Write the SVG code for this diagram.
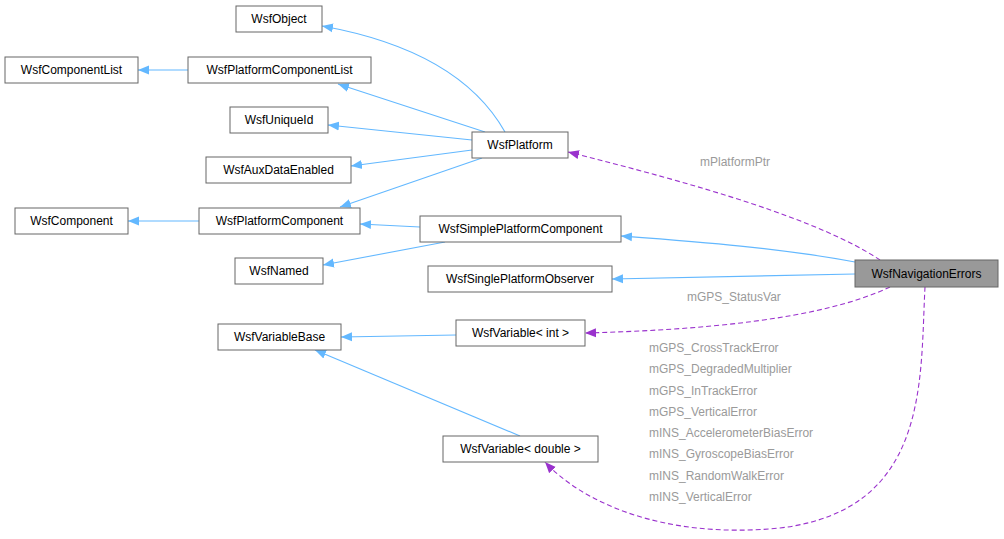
<svg xmlns="http://www.w3.org/2000/svg" width="1004" height="539" viewBox="0 0 1004 539">
<style>
.n rect{fill:#fff;stroke:#666;stroke-width:1}
.n text,.lbl{font-family:"Liberation Sans",Arial,sans-serif;font-size:12px}
.n text{fill:#000;text-anchor:middle}
.lbl{fill:#9a9a9a}
.b{fill:none;stroke:#63b8ff;stroke-width:1.1}
.d{fill:none;stroke:#9a32cd;stroke-width:1.1;stroke-dasharray:5,3}
</style>
<defs>
<marker id="ab" markerWidth="12" markerHeight="10" refX="11" refY="5" orient="auto" markerUnits="userSpaceOnUse"><path d="M0,0.5 L11,5 L0,9.5 Z" fill="#63b8ff"/></marker>
<marker id="ap" markerWidth="12" markerHeight="10" refX="11" refY="5" orient="auto" markerUnits="userSpaceOnUse"><path d="M0,0.5 L11,5 L0,9.5 Z" fill="#9a32cd"/></marker>
</defs>
<g id="edges">
<path class="b" marker-end="url(#ab)" d="M505,132 C470,70 400,40 322,26"/>
<path class="b" marker-end="url(#ab)" d="M188,70 L138,70"/>
<path class="b" marker-end="url(#ab)" d="M485,132 L338,84"/>
<path class="b" marker-end="url(#ab)" d="M472,140 L328,125"/>
<path class="b" marker-end="url(#ab)" d="M472,150 L351,166"/>
<path class="b" marker-end="url(#ab)" d="M199,221 L128,221"/>
<path class="b" marker-end="url(#ab)" d="M482,158 L340,207"/>
<path class="b" marker-end="url(#ab)" d="M420,227 L360,224"/>
<path class="b" marker-end="url(#ab)" d="M445,242 L323,265"/>
<path class="b" marker-end="url(#ab)" d="M855,262 C780,248 700,242 621,236"/>
<path class="b" marker-end="url(#ab)" d="M855,274 L612,279"/>
<path class="b" marker-end="url(#ab)" d="M456,335 L341,337"/>
<path class="b" marker-end="url(#ab)" d="M520,436 L315,350"/>
<path class="d" marker-end="url(#ap)" d="M880,260 C820,220 700,185 568,152"/>
<path class="d" marker-end="url(#ap)" d="M890,287 C820,320 700,330 585,333"/>
<path class="d" marker-end="url(#ap)" d="M925,287 C920,380 930,510 780,528 C660,540 580,500 545,462"/>
<text class="lbl" x="700" y="166">mPlatformPtr</text>
<text class="lbl" x="687" y="301">mGPS_StatusVar</text>
<text class="lbl" x="649" y="352">mGPS_CrossTrackError</text>
<text class="lbl" x="649" y="373">mGPS_DegradedMultiplier</text>
<text class="lbl" x="649" y="395">mGPS_InTrackError</text>
<text class="lbl" x="649" y="416">mGPS_VerticalError</text>
<text class="lbl" x="649" y="437">mINS_AccelerometerBiasError</text>
<text class="lbl" x="649" y="458">mINS_GyroscopeBiasError</text>
<text class="lbl" x="649" y="480">mINS_RandomWalkError</text>
<text class="lbl" x="649" y="501">mINS_VerticalError</text>
</g>
<g id="WsfObject" class="n"><rect x="236" y="6" width="86" height="26"/><text x="279" y="23">WsfObject</text></g>
<g id="WsfComponentList" class="n"><rect x="5" y="57" width="133" height="26"/><text x="71.5" y="74">WsfComponentList</text></g>
<g id="WsfPlatformComponentList" class="n"><rect x="188" y="57" width="183" height="26"/><text x="279.5" y="74">WsfPlatformComponentList</text></g>
<g id="WsfUniqueId" class="n"><rect x="230" y="107" width="98" height="26"/><text x="279" y="124">WsfUniqueId</text></g>
<g id="WsfAuxDataEnabled" class="n"><rect x="206" y="157" width="145" height="26"/><text x="278.5" y="174">WsfAuxDataEnabled</text></g>
<g id="WsfPlatform" class="n"><rect x="472" y="132" width="96" height="26"/><text x="520" y="149">WsfPlatform</text></g>
<g id="WsfComponent" class="n"><rect x="15" y="208" width="113" height="26"/><text x="71.5" y="225">WsfComponent</text></g>
<g id="WsfPlatformComponent" class="n"><rect x="199" y="208" width="161" height="26"/><text x="279.5" y="225">WsfPlatformComponent</text></g>
<g id="WsfSimplePlatformComponent" class="n"><rect x="420" y="216" width="201" height="26"/><text x="520.5" y="233">WsfSimplePlatformComponent</text></g>
<g id="WsfNamed" class="n"><rect x="235" y="258" width="88" height="26"/><text x="279" y="275">WsfNamed</text></g>
<g id="WsfSinglePlatformObserver" class="n"><rect x="428" y="266" width="184" height="26"/><text x="520" y="283">WsfSinglePlatformObserver</text></g>
<g id="WsfNavigationErrors" class="n"><rect x="855" y="260" width="143" height="27" style="fill:#999;stroke:#666"/><text x="926.5" y="278">WsfNavigationErrors</text></g>
<g id="WsfVariableBase" class="n"><rect x="218" y="324" width="123" height="26"/><text x="279.5" y="341">WsfVariableBase</text></g>
<g id="WsfVariableInt" class="n"><rect x="456" y="320" width="129" height="26"/><text x="520.5" y="337">WsfVariable&lt; int &gt;</text></g>
<g id="WsfVariableDouble" class="n"><rect x="443" y="436" width="155" height="26"/><text x="520.5" y="453">WsfVariable&lt; double &gt;</text></g>
</svg>
